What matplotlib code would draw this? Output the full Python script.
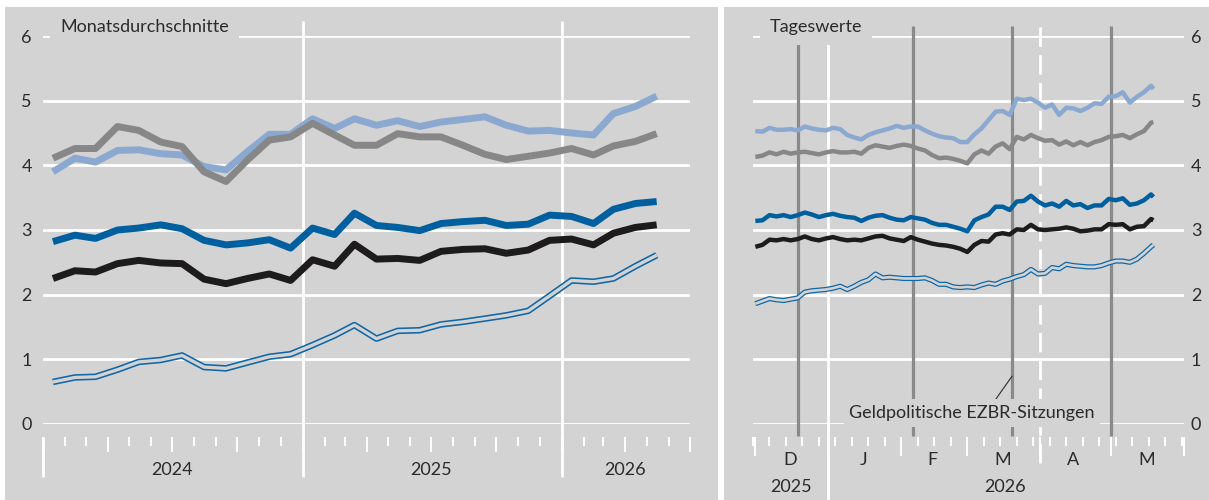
import numpy as np
import pandas as pd
import matplotlib
matplotlib.use('Agg')
import matplotlib.pyplot as plt
import matplotlib.dates as mdates
from matplotlib.patches import Rectangle

plt.rcParams['font.family'] = ['Lato', 'DejaVu Sans']

# Monatsdurchschnitte, Januar 2024 bis Mai 2026 (Monatsmitte)
monate = pd.date_range('2024-01-01', '2026-05-01', freq='MS') + pd.Timedelta(days=14)
hell_m = [3.90, 4.11, 4.05, 4.23, 4.24, 4.18, 4.16, 3.98, 3.93, 4.21, 4.48, 4.48,
          4.72, 4.57, 4.72, 4.62, 4.69, 4.60, 4.67, 4.71, 4.75, 4.62, 4.53, 4.54,
          4.50, 4.47, 4.80, 4.91, 5.07]
grau_m = [4.11, 4.26, 4.26, 4.60, 4.54, 4.36, 4.29, 3.90, 3.75, 4.08, 4.39, 4.44,
          4.65, 4.47, 4.31, 4.31, 4.49, 4.44, 4.44, 4.31, 4.17, 4.09, 4.14, 4.19,
          4.26, 4.16, 4.30, 4.37, 4.49]
blau_m = [2.82, 2.92, 2.87, 3.00, 3.03, 3.08, 3.02, 2.84, 2.77, 2.80, 2.85, 2.72,
          3.03, 2.93, 3.26, 3.07, 3.04, 2.99, 3.10, 3.13, 3.15, 3.07, 3.09, 3.23,
          3.21, 3.10, 3.32, 3.41, 3.44]
schwarz_m = [2.25, 2.37, 2.35, 2.48, 2.53, 2.49, 2.48, 2.24, 2.17, 2.25, 2.32, 2.22,
             2.54, 2.44, 2.78, 2.55, 2.56, 2.53, 2.67, 2.70, 2.71, 2.64, 2.69, 2.84,
             2.86, 2.77, 2.95, 3.04, 3.08]
doppel_m = [0.65, 0.72, 0.73, 0.84, 0.96, 0.99, 1.06, 0.88, 0.86, 0.95, 1.04, 1.08,
            1.22, 1.37, 1.53, 1.32, 1.44, 1.45, 1.54, 1.58, 1.63, 1.68, 1.75, 1.98,
            2.22, 2.20, 2.25, 2.44, 2.61]

# Tageswerte, Tage nach dem 30.11.2025
tage = [1, 4, 7, 10, 13, 16, 19, 22, 25, 28, 31, 34, 37, 40, 43,
        46, 49, 52, 55, 58, 61, 64, 67, 70, 73, 76, 79, 82, 85, 88,
        91, 94, 97, 100, 103, 106, 109, 112, 115, 118, 121, 124, 127, 130, 133, 136,
        139, 142, 145, 148, 151, 154, 157, 160, 163, 166, 169, 170]
hell_t = [4.53, 4.52, 4.58, 4.55, 4.55, 4.56, 4.54, 4.60, 4.57, 4.55, 4.54, 4.58, 4.56, 4.47, 4.43,
          4.40, 4.47, 4.51, 4.54, 4.57, 4.61, 4.58, 4.60, 4.60, 4.54, 4.49, 4.45, 4.43, 4.42, 4.36,
          4.36, 4.48, 4.57, 4.70, 4.83, 4.84, 4.78, 5.03, 5.01, 5.03, 4.97, 4.89, 4.94, 4.78, 4.89, 4.88,
          4.84, 4.89, 4.96, 4.95, 5.06, 5.07, 5.13, 4.97, 5.06, 5.13, 5.23, 5.18]
grau_t = [4.13, 4.15, 4.20, 4.17, 4.21, 4.18, 4.20, 4.21, 4.19, 4.17, 4.20, 4.22, 4.20, 4.20, 4.21,
          4.18, 4.27, 4.31, 4.29, 4.27, 4.30, 4.32, 4.30, 4.26, 4.23, 4.16, 4.11, 4.12, 4.10, 4.07,
          4.03, 4.17, 4.23, 4.18, 4.29, 4.34, 4.25, 4.44, 4.40, 4.47, 4.42, 4.38, 4.39, 4.32, 4.37, 4.31,
          4.36, 4.31, 4.36, 4.39, 4.44, 4.45, 4.47, 4.42, 4.48, 4.53, 4.66, 4.67]
blau_t = [3.14, 3.15, 3.23, 3.21, 3.23, 3.20, 3.23, 3.27, 3.24, 3.20, 3.23, 3.25, 3.22, 3.20, 3.19,
          3.14, 3.19, 3.22, 3.23, 3.19, 3.16, 3.15, 3.20, 3.18, 3.16, 3.11, 3.08, 3.08, 3.05, 3.02,
          2.98, 3.15, 3.20, 3.24, 3.36, 3.36, 3.31, 3.44, 3.45, 3.53, 3.44, 3.38, 3.41, 3.36, 3.45, 3.38,
          3.40, 3.34, 3.38, 3.38, 3.48, 3.46, 3.49, 3.39, 3.41, 3.46, 3.55, 3.51]
schwarz_t = [2.74, 2.77, 2.85, 2.84, 2.86, 2.84, 2.86, 2.90, 2.86, 2.84, 2.87, 2.89, 2.86, 2.84, 2.85,
             2.84, 2.87, 2.90, 2.91, 2.87, 2.85, 2.83, 2.89, 2.85, 2.82, 2.79, 2.77, 2.76, 2.74, 2.71,
             2.66, 2.77, 2.83, 2.82, 2.93, 2.95, 2.93, 3.01, 3.00, 3.08, 3.01, 3.00, 3.01, 3.02, 3.04, 3.02,
             2.98, 2.99, 3.01, 3.01, 3.09, 3.08, 3.09, 3.01, 3.05, 3.06, 3.17, 3.15]
doppel_t = [1.86, 1.90, 1.94, 1.92, 1.91, 1.93, 1.95, 2.04, 2.06, 2.07, 2.08, 2.10, 2.13, 2.08, 2.13,
            2.19, 2.23, 2.32, 2.26, 2.27, 2.26, 2.25, 2.25, 2.25, 2.26, 2.22, 2.16, 2.16, 2.12, 2.11,
            2.12, 2.11, 2.15, 2.18, 2.16, 2.21, 2.24, 2.28, 2.31, 2.39, 2.32, 2.33, 2.42, 2.40, 2.47, 2.45,
            2.44, 2.43, 2.43, 2.45, 2.49, 2.52, 2.52, 2.50, 2.55, 2.64, 2.74, 2.77]
tage_datum = pd.Timestamp('2025-11-30') + pd.to_timedelta(tage, unit='D')

ezb_sitzungen = pd.to_datetime(['2025-12-19', '2026-02-06', '2026-03-20', '2026-05-01'])
monats_labels = ['D', 'J', 'F', 'M', 'A', 'M']
monats_mitte = pd.to_datetime(['2025-12-16', '2026-01-16', '2026-02-14',
                               '2026-03-16', '2026-04-15', '2026-05-16'])

PANEL = '#d3d3d3'
TXT = '#2b2b2b'
C_HELL = '#8ba8d0'
C_GRAU = '#878787'
C_BLAU = '#00609f'
C_SCHWARZ = '#1d1b1b'
C_DOPPEL = '#0f67a8'
FS = 13

W, H = 1209, 500
fig = plt.figure(figsize=(W / 100, H / 100), dpi=100)
fig.patch.set_facecolor('white')
fig.add_artist(Rectangle((5 / W, 0), 713 / W, 493 / H, transform=fig.transFigure,
                         facecolor=PANEL, edgecolor='none', zorder=-5))
fig.add_artist(Rectangle((724 / W, 0), (W - 724) / W, 493 / H, transform=fig.transFigure,
                         facecolor=PANEL, edgecolor='none', zorder=-5))


def px_axes(x0, x1, y_top, y_bot):
    ax = fig.add_axes([x0 / W, 1 - y_bot / H, (x1 - x0) / W, (y_bot - y_top) / H])
    ax.set_facecolor('none')
    for s in ax.spines.values():
        s.set_visible(False)
    ax.set_ylim(0, 6)
    ax.set_yticks(range(7))
    for v in range(7):
        ax.axhline(v, color='white', lw=2.0, zorder=1)
    ax.spines['bottom'].set_position(('outward', 9.4))
    ax.tick_params(axis='x', which='both', direction='out', color='white', width=1.5,
                   labelbottom=False)
    ax.tick_params(axis='y', length=0, labelsize=FS, labelcolor=TXT)
    return ax


def double_line(ax, x, y, outer, inner):
    ax.plot(x, y, color=C_DOPPEL, lw=outer, solid_capstyle='butt', zorder=3)
    ax.plot(x, y, color=PANEL, lw=inner, solid_capstyle='butt', zorder=3)


# ---- linke Seite: Monatsdurchschnitte
axL = px_axes(43, 690, 36, 424)
axL.set_xlim(pd.Timestamp('2024-01-01'), pd.Timestamp('2026-07-01'))
axL.xaxis.set_major_locator(mdates.MonthLocator(bymonth=[1, 4, 7, 10]))
axL.xaxis.set_minor_locator(mdates.MonthLocator())
axL.tick_params(axis='x', which='major', length=10.8)
axL.tick_params(axis='x', which='minor', length=6.5)
axL.tick_params(axis='y', pad=8)
axL.vlines(pd.to_datetime(['2025-01-01', '2026-01-01']), -0.82, 6.23, color='white',
           lw=2.0, clip_on=False, zorder=1.5)
axL.vlines(pd.Timestamp('2024-01-01'), -0.82, -0.2, color='white', lw=2.0,
           clip_on=False, zorder=1.5)

for vals, col in [(hell_m, C_HELL), (grau_m, C_GRAU), (blau_m, C_BLAU), (schwarz_m, C_SCHWARZ)]:
    axL.plot(monate, vals, color=col, lw=5.0, solid_capstyle='butt', zorder=3)
double_line(axL, monate, doppel_m, 4.7, 2.4)

for jahr, mitte in [('2024', '2024-07-01'), ('2025', '2025-07-01'), ('2026', '2026-04-01')]:
    axL.text(pd.Timestamp(mitte), -0.71, jahr, ha='center', va='center', fontsize=FS,
             color=TXT, clip_on=False)
axL.text(0.0263, 6.14, 'Monatsdurchschnitte', transform=axL.get_yaxis_transform(),
         ha='left', va='center', fontsize=FS, color=TXT, zorder=5,
         bbox=dict(facecolor=PANEL, edgecolor='none', pad=7))

# ---- rechte Seite: Tageswerte
axR = px_axes(753, 1184, 36, 424)
axR.set_xlim(pd.Timestamp('2025-11-30'), pd.Timestamp('2026-06-01'))
axR.xaxis.set_major_locator(mdates.MonthLocator())
axR.xaxis.set_minor_locator(mdates.WeekdayLocator(byweekday=mdates.SU))
axR.tick_params(axis='x', which='major', length=13.7)
axR.tick_params(axis='x', which='minor', length=6.5)
axR.yaxis.tick_right()
axR.tick_params(axis='y', pad=5)
axR.vlines(pd.Timestamp('2026-01-01'), -1.18, 6.23, color='white', lw=2.0,
           clip_on=False, zorder=1.5)
axR.vlines(pd.Timestamp('2026-04-01'), -0.6, 6.23, color='white', lw=2.0,
           linestyles=(0, (7, 3)), clip_on=False, zorder=1.5)
axR.vlines(ezb_sitzungen, -0.19, 6.15, color='#8a8a8a', lw=2.3, clip_on=False, zorder=2)

for vals, col in [(hell_t, C_HELL), (grau_t, C_GRAU), (blau_t, C_BLAU), (schwarz_t, C_SCHWARZ)]:
    axR.plot(tage_datum, vals, color=col, lw=3.2, solid_capstyle='butt', zorder=3)
double_line(axR, tage_datum, doppel_t, 3.7, 1.9)

for lab, m in zip(monats_labels, monats_mitte):
    axR.text(m, -0.557, lab, ha='center', va='center', fontsize=FS, color=TXT, clip_on=False)
axR.text(pd.Timestamp('2025-12-16'), -0.974, '2025', ha='center', va='center',
         fontsize=FS, color=TXT, clip_on=False)
axR.text(pd.Timestamp('2026-03-17'), -0.974, '2026', ha='center', va='center',
         fontsize=FS, color=TXT, clip_on=False)
axR.text(0.0394, 6.14, 'Tageswerte', transform=axR.get_yaxis_transform(),
         ha='left', va='center', fontsize=FS, color=TXT, zorder=5,
         bbox=dict(facecolor=PANEL, edgecolor='none', pad=7))
axR.annotate('Geldpolitische EZBR-Sitzungen', xy=(ezb_sitzungen[2], 0.74),
             xytext=(pd.Timestamp('2026-03-03'), 0.17), ha='center', va='center',
             fontsize=FS, color=TXT, zorder=5,
             bbox=dict(facecolor=PANEL, edgecolor='none', pad=4),
             arrowprops=dict(arrowstyle='-', color=TXT, lw=0.8, shrinkA=0, shrinkB=0,
                             relpos=(0.58, 1.0)))

fig.savefig('out.png', dpi=100)
